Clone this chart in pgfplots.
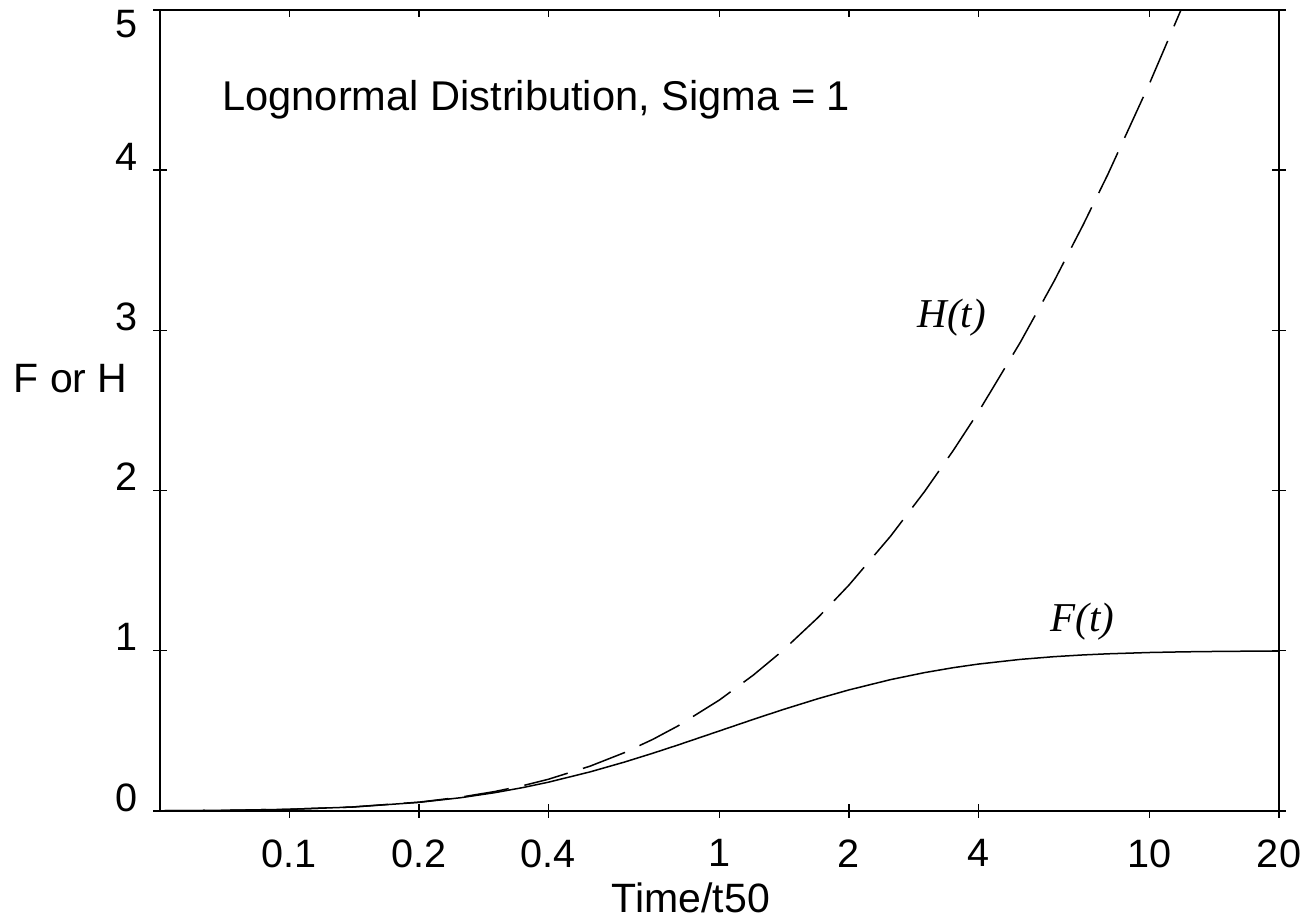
\documentclass[border=0pt]{standalone}
\usepackage{fontspec}
\setmainfont{Liberation Sans}
\newfontfamily\timesfont{Liberation Serif}
\usepackage{pgfplots}
\pgfplotsset{compat=1.18}
\begin{document}
\begin{tikzpicture}
\begin{pgfinterruptboundingbox}
\begin{axis}[
  name=ax,
  scale only axis,
  width=559.5bp, height=400.5bp,
  xmode=log,
  xmin=0.05, xmax=20,
  ymin=0, ymax=5,
  xtick={0.2,0.4,2,4,20},
  xticklabels={0.2,0.4,2,4,20},
  extra x ticks={0.1,1,10},
  extra x tick labels={0.1,1,10},
  extra x tick style={tick align=outside, major tick length=3.5bp},
  minor xtick={},
  ytick={0,1,2,3,4},
  extra y ticks={5},
  extra y tick labels={5},
  extra y tick style={yticklabel style={anchor=north east}},
  tick align=center,
  major tick length=7bp,
  xtick pos=bottom, ytick pos=both,
  every tick/.style={black, line width=0.7bp},
  axis line style={black, line width=0.8bp},
  /pgf/number format/assume math mode=true,
  xticklabel style={font=\fontsize{19.8bp}{22bp}\selectfont, anchor=north, inner sep=0pt, yshift=-10.5bp},
  yticklabel style={font=\fontsize{19.8bp}{22bp}\selectfont, anchor=base east, inner sep=0pt, xshift=-7.5bp},
  xlabel={Time/t50},
  xlabel style={font=\fontsize{20.5bp}{24bp}\selectfont, at={(rel axis cs:0.4745,-0.1273)}, anchor=base, inner sep=0pt},
  ylabel={F or H},
  ylabel style={font=\fontsize{20.5bp}{24bp}\selectfont, rotate=-90, at={(rel axis cs:-0.0286,0.522)}, anchor=base east, inner sep=0pt},
]
% F(t)
\addplot[black, line width=0.75bp] coordinates {
(0.05,0.00137) (0.07,0.00392) (0.1,0.01065) (0.14,0.02465) (0.2,0.05376)
(0.25,0.08283) (0.3,0.11430) (0.35,0.14690) (0.4,0.17976) (0.5,0.24411)
(0.6,0.30474) (0.7,0.36066) (0.8,0.41171) (1,0.5) (1.2,0.57234)
(1.4,0.63175) (1.7,0.70215) (2,0.75589) (2.5,0.82024) (3,0.86403)
(3.5,0.89486) (4,0.91717) (5,0.94624) (6,0.96342) (7,0.97417)
(8,0.98121) (10,0.98935) (12,0.99352) (15,0.99662) (20,0.99863)
};
% H(t)
\addplot[black, line width=0.75bp, dash pattern=on 22.5bp off 8bp] coordinates {
(0.05,0.00137) (0.07,0.00393) (0.1,0.01071) (0.14,0.02495) (0.2,0.05526)
(0.25,0.08646) (0.3,0.12137) (0.35,0.15887) (0.4,0.19816) (0.5,0.27985)
(0.6,0.36346) (0.7,0.44732) (0.8,0.53054) (1,0.69315) (1.2,0.84943)
(1.4,0.99899) (1.7,1.2112) (2,1.4102) (2.5,1.7161) (3,1.9953)
(3.5,2.2524) (4,2.4910) (5,2.9233) (6,3.3083) (7,3.6562)
(8,3.9744) (10,4.5422) (12,5.039)
};
\node[anchor=base west, inner sep=0pt, font=\fontsize{20.8bp}{24bp}\selectfont] at (rel axis cs:0.0554,0.874) {Lognormal Distribution, Sigma = 1};
\node[anchor=base west, inner sep=0pt, font=\fontsize{20.5bp}{24bp}\timesfont\itshape] at (rel axis cs:0.6765,0.603) {H(t)};
\node[anchor=base west, inner sep=0pt, font=\fontsize{20.5bp}{24bp}\timesfont\itshape] at (rel axis cs:0.7954,0.2235) {F(t)};
\end{axis}
\begin{axis}[
  scale only axis,
  width=559.5bp, height=400.5bp,
  xmode=log,
  xmin=0.05, xmax=20,
  ymin=0, ymax=5,
  axis x line*=top,
  axis y line=none,
  xtick={0.1,0.2,0.4,1,2,4,10,20},
  xticklabels={},
  minor xtick={},
  tick align=inside,
  major tick length=3.5bp,
  every tick/.style={black, line width=0.7bp},
  axis line style={black, line width=0.8bp},
]
\end{axis}
\end{pgfinterruptboundingbox}
\path ([xshift=-80bp,yshift=-55bp]ax.south west) rectangle ([xshift=15.5bp,yshift=5bp]ax.north east);
\end{tikzpicture}
\end{document}
